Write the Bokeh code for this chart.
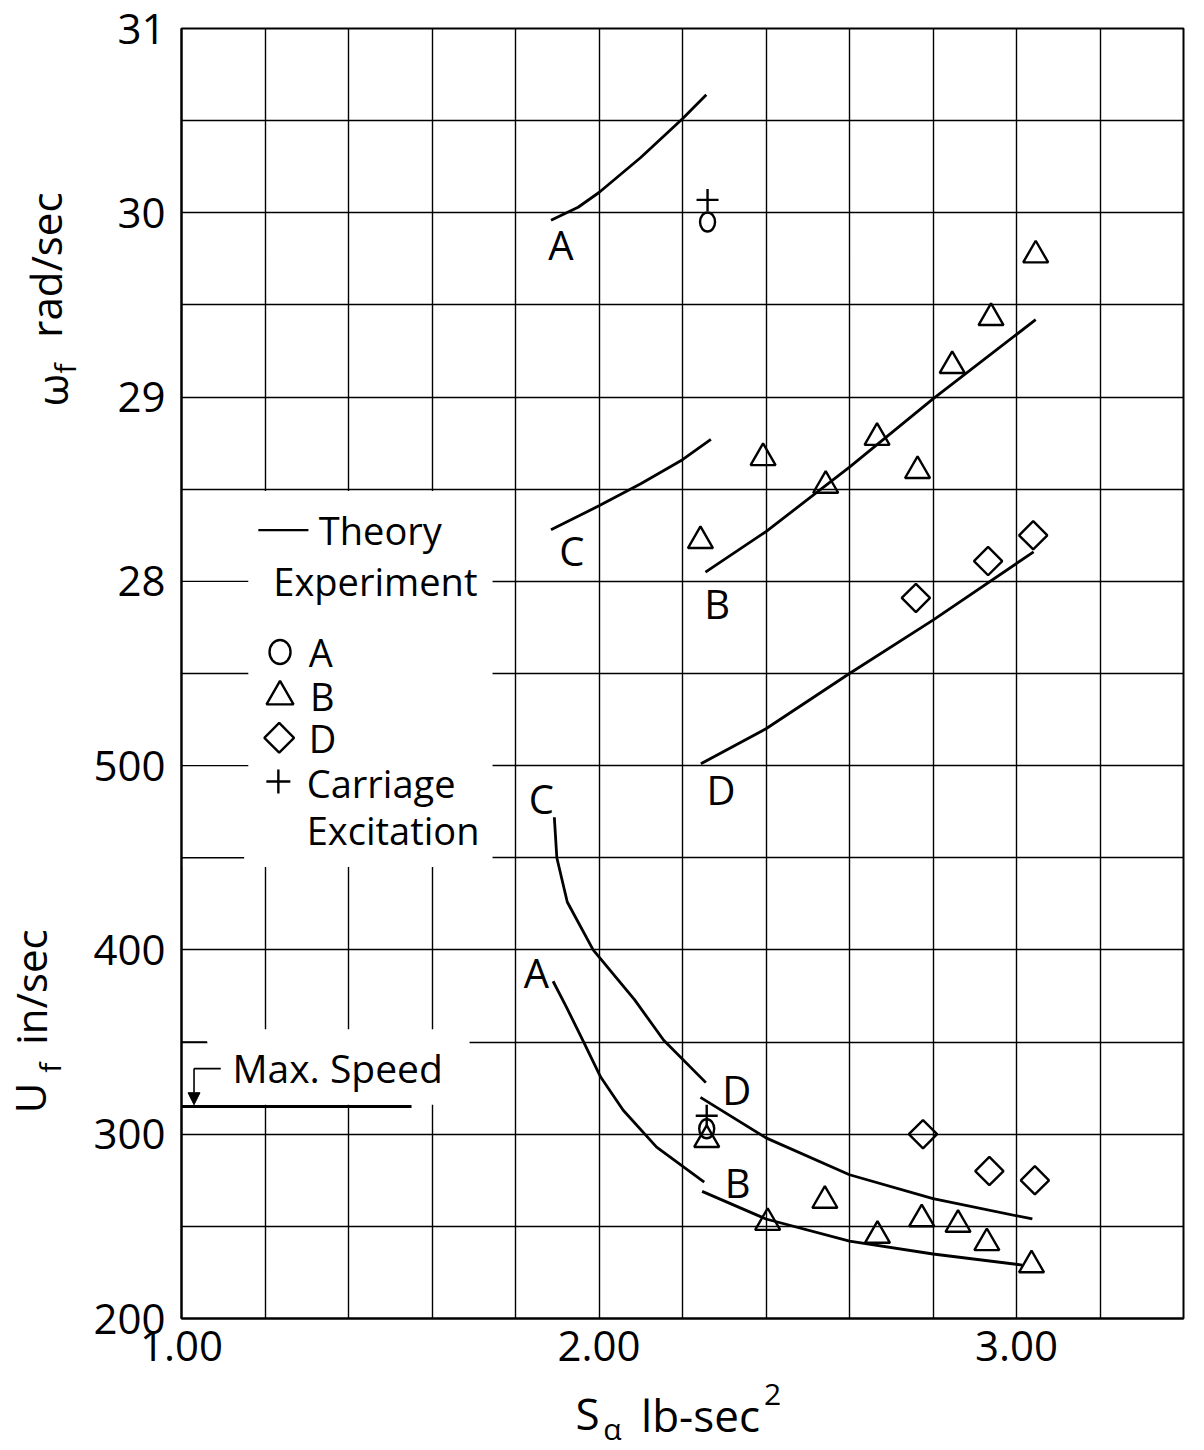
import numpy as np
from bokeh.plotting import figure
from bokeh.layouts import column, row
from bokeh.models import Range1d, FixedTicker, Arrow, NormalHead
from bokeh.core.properties import value
from bokeh.embed import file_html
from bokeh.resources import INLINE

FONT = "Open Sans"

# ---------------- data ----------------
# One vertical scale carries two quantities:
#   lower part  U_f (in/sec) 200..500, upper part omega_f (rad/sec) 27..31
u_ticks = [200, 300, 400, 500]
w_ticks = [28, 29, 30, 31]
x_ticks = [1, 2, 3]
x_tick_labels = ["1.00", "2.00", "3.00"]

# theory, omega_f (rad/sec)
wA_x = [1.885, 1.95, 2.0, 2.1, 2.2, 2.257]
wA_y = [29.96, 30.03, 30.11, 30.30, 30.51, 30.64]
wC_x = [1.885, 2.0, 2.1, 2.2, 2.268]
wC_y = [28.28, 28.41, 28.53, 28.66, 28.77]
wB_x = [2.255, 2.4, 2.6, 2.8, 3.046]
wB_y = [28.05, 28.27, 28.62, 28.99, 29.42]
wD_x = [2.244, 2.4, 2.6, 2.8, 3.041]
wD_y = [27.01, 27.20, 27.50, 27.79, 28.16]

# experiment, omega_f
wexpA_x = [2.26]
wexpA_y = [29.95]
wexpB_x = [2.243, 2.393, 2.543, 2.666, 2.763, 2.846, 2.939, 3.046]
wexpB_y = [28.22, 28.67, 28.52, 28.78, 28.60, 29.17, 29.43, 29.77]
wexpD_x = [2.759, 2.932, 3.04]
wexpD_y = [27.91, 28.11, 28.25]
wcarr_x = [2.26]
wcarr_y = [30.07]

# theory, U_f (in/sec)
uA_x = [1.89, 1.922, 1.961, 2.004, 2.058, 2.138, 2.252]
uA_y = [383, 369, 351, 331, 313, 293, 274]
uC_x = [1.893, 1.899, 1.924, 1.986, 2.085, 2.155, 2.256]
uC_y = [472, 450, 426, 400, 373, 351, 328]
uD_x = [2.243, 2.4, 2.6, 2.8, 3.038]
uD_y = [320, 298, 278, 265, 254]
uB_x = [2.247, 2.4, 2.6, 2.8, 3.014]
uB_y = [269, 254, 242, 235, 229]

# experiment, U_f
uexpA_x = [2.258]
uexpA_y = [303]
uexpB_x = [2.258, 2.404, 2.541, 2.667, 2.773, 2.86, 2.929, 3.036]
uexpB_y = [297, 252, 264, 245, 254, 251, 241, 229]
uexpD_x = [2.776, 2.935, 3.044]
uexpD_y = [300, 280, 275]
ucarr_x = [2.258]
ucarr_y = [310]

# max carriage speed
max_speed = 315
max_speed_x = [1.0, 1.551]

# curve letters (upper: omega, lower: U)
wlab_text = ["A", "C", "B", "D"]
wlab_x = [1.909, 1.935, 2.283, 2.292]
wlab_y = [29.83, 28.17, 27.88, 26.87]
ulab_text = ["C", "A", "D", "B"]
ulab_x = [1.862, 1.85, 2.33, 2.332]
ulab_y = [482, 387.5, 324.5, 273.6]


def wy(v):
    return [a - 24 for a in v]


def uy(v):
    return [(a - 200) / 100 for a in v]


# ---------------- geometry (px) ----------------
TOTAL_W, TOTAL_H = 1196, 1448
LEFT_W = 90
FRAME_L, FRAME_T, FRAME_R = 180, 28, 13
FRAME_H = 1290
FRAME_BOTTOM_BORDER = 56
MAIN_H = FRAME_T + FRAME_H + FRAME_BOTTOM_BORDER

# ---------------- main figure ----------------
p = figure(width=TOTAL_W - LEFT_W, height=MAIN_H, x_range=Range1d(1.0, 3.4), y_range=Range1d(0, 7),
           output_backend="svg", toolbar_location=None,
           min_border_left=FRAME_L - LEFT_W, min_border_right=FRAME_R, min_border_top=FRAME_T,
           min_border_bottom=FRAME_BOTTOM_BORDER)
p.background_fill_color = "white"
p.border_fill_color = "white"
p.outline_line_color = "black"
p.outline_line_width = 2

p.xgrid.ticker = FixedTicker(ticks=[round(1.0 + 0.2 * i, 2) for i in range(13)])
p.ygrid.ticker = FixedTicker(ticks=[0.5 * i for i in range(15)])
p.grid.grid_line_color = "black"
p.grid.grid_line_width = 1.4

ypos = [int(round(t)) for t in uy(u_ticks) + wy(w_ticks)]
p.yaxis.ticker = FixedTicker(ticks=ypos)
p.yaxis.major_label_overrides = {k: str(l) for k, l in zip(ypos, u_ticks + w_ticks)}
p.xaxis.ticker = FixedTicker(ticks=x_ticks)
p.xaxis.major_label_overrides = {k: l for k, l in zip(x_ticks, x_tick_labels)}
p.axis.axis_line_color = "black"
p.axis.axis_line_width = 2
p.axis.major_tick_line_color = None
p.axis.minor_tick_line_color = None
p.axis.major_label_text_font = FONT
p.axis.major_label_text_font_size = "42px"
p.axis.major_label_text_color = "black"
p.yaxis.major_label_standoff = 10
p.xaxis.major_label_standoff = 6

# white areas where the grid is interrupted (legend and note boxes)
p.quad(left=[1.003, 1.062], right=[1.745, 1.69], bottom=[2.45, 1.16], top=[4.49, 1.57],
       fill_color="white", line_color=None)
p.segment(x0=[1.0, 1.0, 1.0, 1.0, 1.0], x1=[1.16, 1.16, 1.16, 1.15, 1.061],
          y0=[4.0, 3.5, 3.0, 2.5, 1.5], y1=[4.0, 3.5, 3.0, 2.5, 1.5],
          line_color="black", line_width=1.4)

LW = 2.8
for xs, ys in [(wA_x, wA_y), (wC_x, wC_y), (wB_x, wB_y), (wD_x, wD_y)]:
    p.line(xs, wy(ys), line_color="black", line_width=LW)
for xs, ys in [(uA_x, uA_y), (uC_x, uC_y), (uB_x, uB_y), (uD_x, uD_y)]:
    p.line(xs, uy(ys), line_color="black", line_width=LW)

MW = 2.4
# circles (A)
p.ellipse(x=wexpA_x + uexpA_x, y=wy(wexpA_y) + uy(uexpA_y), width=15, height=19,
          width_units="screen", height_units="screen", fill_color=None, line_color="black", line_width=MW)
# triangles (B)
p.scatter(wexpB_x + uexpB_x, wy(wexpB_y) + uy(uexpB_y), marker="triangle", size=25,
          fill_color=None, line_color="black", line_width=MW)
# diamonds (D)
p.scatter(wexpD_x + uexpD_x, wy(wexpD_y) + uy(uexpD_y), marker="square", angle=np.pi / 4, size=20,
          fill_color=None, line_color="black", line_width=MW)
# carriage excitation
p.scatter(wcarr_x + ucarr_x, wy(wcarr_y) + uy(ucarr_y), marker="cross", size=22,
          line_color="black", line_width=MW)

# curve letters
p.text(wlab_x + ulab_x, wy(wlab_y) + uy(ulab_y), text=wlab_text + ulab_text,
       text_font=value(FONT), text_font_size="40px", text_align="center", text_baseline="middle",
       text_color="black")

# max speed line, note and arrow
p.line(max_speed_x, uy([max_speed, max_speed]), line_color="black", line_width=3)
p.segment(x0=[1.03], y0=[1.356], x1=[1.094], y1=[1.356], line_color="black", line_width=1.6)
p.add_layout(Arrow(end=NormalHead(size=12, fill_color="black", line_color="black"),
                   x_start=1.03, y_start=1.356, x_end=1.03, y_end=uy([max_speed])[0] + 0.01,
                   line_color="black", line_width=1.6))
p.text([1.122], [1.36], text=["Max. Speed"], text_font=value(FONT), text_font_size="39px",
       text_align="left", text_baseline="middle", text_color="black")

# legend
p.line([1.184, 1.304], [4.278, 4.278], line_color="black", line_width=2.4)
p.ellipse(x=[1.236], y=[3.617], width=21, height=24, width_units="screen", height_units="screen",
          fill_color=None, line_color="black", line_width=MW)
p.scatter([1.236], [3.375], marker="triangle", size=27, fill_color=None, line_color="black", line_width=MW)
p.scatter([1.234], [3.151], marker="square", angle=np.pi / 4, size=21, fill_color=None,
          line_color="black", line_width=MW)
p.scatter([1.232], [2.914], marker="cross", size=24, line_color="black", line_width=MW)
p.text([1.329, 1.22, 1.305, 1.308, 1.305, 1.30, 1.30],
       [4.278, 4.0, 3.617, 3.38, 3.151, 2.905, 2.65],
       text=["Theory", "Experiment", "A", "B", "D", "Carriage", "Excitation"],
       text_font=value(FONT), text_font_size="38px", text_align="left", text_baseline="middle",
       text_color="black")


# ---------------- title strips (pixel coordinates, centre anchored) ----------------
def strip(w, h):
    f = figure(width=w, height=h, x_range=Range1d(0, w), y_range=Range1d(0, h),
               output_backend="svg", toolbar_location=None, min_border=0,
               x_axis_type=None, y_axis_type=None)
    f.outline_line_color = None
    f.background_fill_color = "white"
    f.border_fill_color = "white"
    return f


# vertical axis titles: omega_f rad/sec (upper), U_f in/sec (lower)
left = strip(LEFT_W, MAIN_H)
R = np.pi / 2
ytitle = [("ω", 51, 385, "42px"), ("f", 64, 362, "30px"), ("rad/sec", 45, 252, "42px"),
          ("U", 29, 1139, "42px"), ("f", 49, 1107, "30px"), ("in/sec", 30, 1021, "42px")]
for t, cx, cy, fs in ytitle:
    left.text([cx], [MAIN_H - cy], text=[t], angle=R, text_font=value(FONT), text_font_size=fs,
              text_align="center", text_baseline="middle", text_color="black")

# horizontal axis title: S_alpha lb-sec^2
BOT_H = TOTAL_H - MAIN_H
bottom = strip(TOTAL_W, BOT_H)
xtitle = [("S", 587, 1412, "44px"), ("α", 612, 1428, "30px"), ("lb-sec", 700, 1414, "44px"),
          ("2", 772, 1394, "30px")]
for t, cx, cy, fs in xtitle:
    bottom.text([cx], [TOTAL_H - cy], text=[t], text_font=value(FONT), text_font_size=fs,
                text_align="center", text_baseline="middle", text_color="black")

layout = column(row(left, p), bottom)
open("out.html", "w").write(file_html(layout, INLINE))
